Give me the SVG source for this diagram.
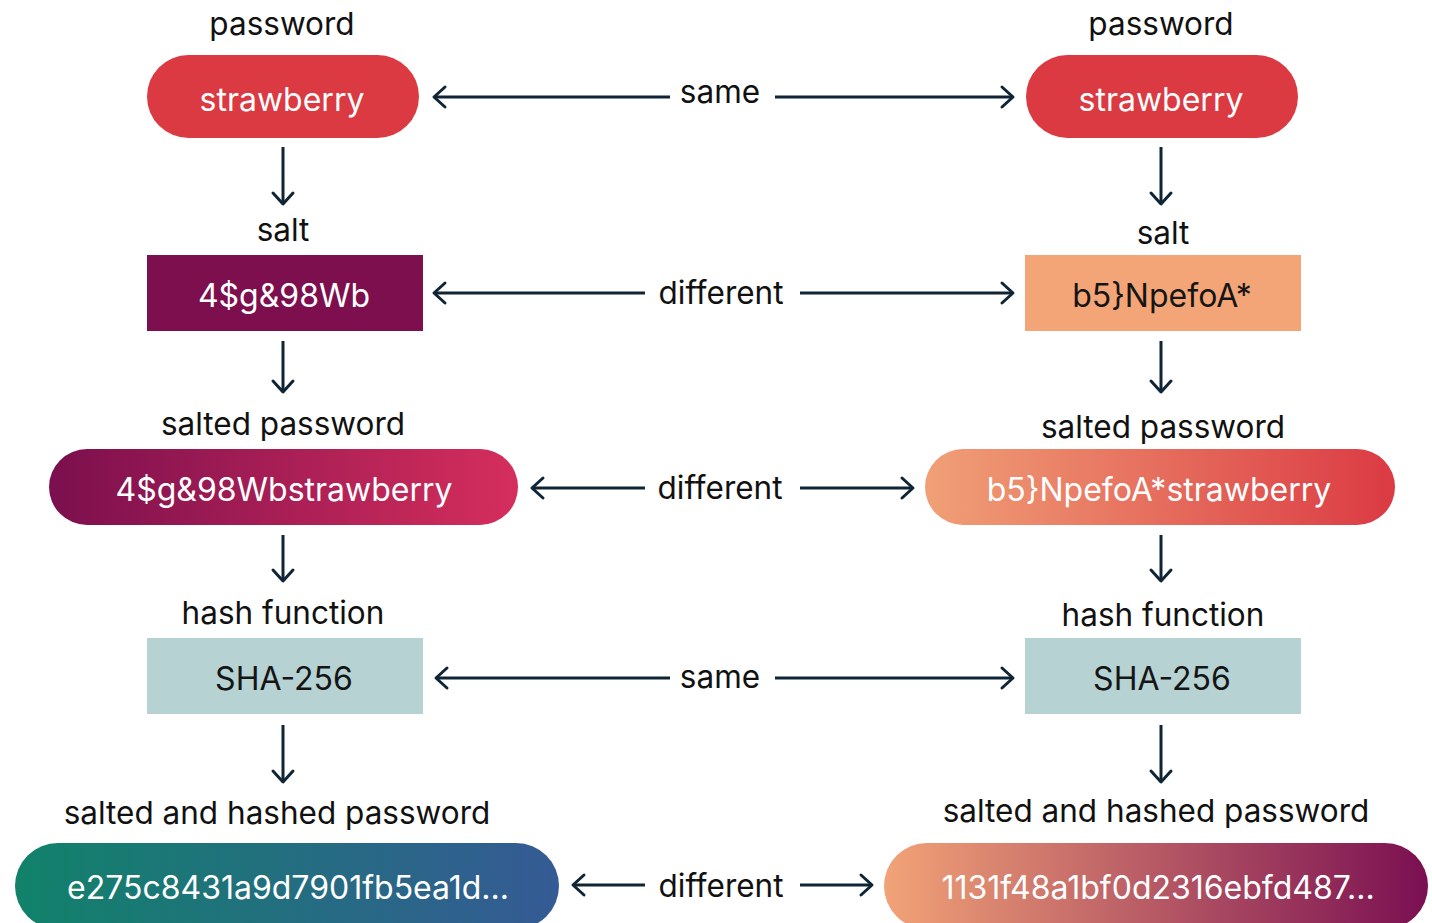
<svg xmlns="http://www.w3.org/2000/svg" width="1432" height="923" viewBox="0 0 1432 923">
  <style>
    .lbl { font-family: Inter, "Noto Sans", "Liberation Sans", sans-serif; font-size: 31.5px; fill: #111111; text-anchor: middle; }
    .val { font-family: Inter, "Noto Sans", "Liberation Sans", sans-serif; font-size: 32px; fill: #ffffff; text-anchor: middle; }
    .dark { fill: #151515; }
    .conn { fill: none; stroke: #0f2535; stroke-width: 3; marker-end: url(#head); }
  </style>
  <defs>
    <marker id="head" markerUnits="userSpaceOnUse" markerWidth="30" markerHeight="30" viewBox="-15 -15 30 30" refX="0" refY="0" orient="auto">
      <path d="M-11,-10 L0,0 L-11,10" fill="none" stroke="#0f2535" stroke-width="3" stroke-linecap="round" stroke-linejoin="round"/>
    </marker>
    <linearGradient id="gSaltL" x1="0" y1="0" x2="1" y2="0">
      <stop offset="0" stop-color="#7b0f4e"/>
      <stop offset="1" stop-color="#d52e5c"/>
    </linearGradient>
    <linearGradient id="gSaltR" x1="0" y1="0" x2="1" y2="0">
      <stop offset="0" stop-color="#f0a077"/>
      <stop offset="1" stop-color="#db3a43"/>
    </linearGradient>
    <linearGradient id="gHashL" x1="0" y1="0" x2="1" y2="0">
      <stop offset="0" stop-color="#11826a"/>
      <stop offset="1" stop-color="#355a95"/>
    </linearGradient>
    <linearGradient id="gHashR" x1="0" y1="0" x2="1" y2="0">
      <stop offset="0" stop-color="#f2a377"/>
      <stop offset="1" stop-color="#7a0f52"/>
    </linearGradient>
  </defs>

  <rect width="1432" height="923" fill="#ffffff"/>

  <!-- left column -->
  <g id="pw-left">
    <text class="lbl" x="282" y="35">password</text>
    <rect x="147" y="55" width="272" height="83" rx="41.5" fill="#db3a42"/>
    <text class="val" x="282" y="111">strawberry</text>
  </g>
  <g id="salt-left">
    <text class="lbl" x="283" y="241">salt</text>
    <rect x="147" y="255" width="276" height="76" fill="#7d0f4e"/>
    <text class="val" x="284" y="307">4$g&amp;98Wb</text>
  </g>
  <g id="salted-left">
    <text class="lbl" x="283" y="435">salted password</text>
    <rect x="49" y="449" width="469" height="76" rx="38" fill="url(#gSaltL)"/>
    <text class="val" x="284" y="501">4$g&amp;98Wbstrawberry</text>
  </g>
  <g id="hashfn-left">
    <text class="lbl" x="283" y="624">hash function</text>
    <rect x="147" y="638" width="276" height="76" fill="#b6d2d2"/>
    <text class="val dark" x="284" y="690">SHA-256</text>
  </g>
  <g id="result-left">
    <text class="lbl" x="277" y="824">salted and hashed password</text>
    <rect x="15" y="843" width="544" height="86" rx="43" fill="url(#gHashL)"/>
    <text class="val" x="288" y="899">e275c8431a9d7901fb5ea1d...</text>
  </g>

  <!-- right column -->
  <g id="pw-right">
    <text class="lbl" x="1161" y="35">password</text>
    <rect x="1026" y="55" width="272" height="83" rx="41.5" fill="#db3a42"/>
    <text class="val" x="1161" y="111">strawberry</text>
  </g>
  <g id="salt-right">
    <text class="lbl" x="1163" y="244">salt</text>
    <rect x="1025" y="255" width="276" height="76" fill="#f4a577"/>
    <text class="val dark" x="1162" y="307">b5}NpefoA*</text>
  </g>
  <g id="salted-right">
    <text class="lbl" x="1163" y="438">salted password</text>
    <rect x="925" y="449" width="470" height="76" rx="38" fill="url(#gSaltR)"/>
    <text class="val" x="1159" y="501">b5}NpefoA*strawberry</text>
  </g>
  <g id="hashfn-right">
    <text class="lbl" x="1163" y="626">hash function</text>
    <rect x="1025" y="638" width="276" height="76" fill="#b6d2d2"/>
    <text class="val dark" x="1162" y="690">SHA-256</text>
  </g>
  <g id="result-right">
    <text class="lbl" x="1156" y="822">salted and hashed password</text>
    <rect x="884" y="843" width="544" height="86" rx="43" fill="url(#gHashR)"/>
    <text class="val" x="1158" y="899">1131f48a1bf0d2316ebfd487...</text>
  </g>

  <!-- comparison labels -->
  <g id="compare-labels">
    <text class="lbl" x="720" y="103">same</text>
    <text class="lbl" x="721" y="304">different</text>
    <text class="lbl" x="720" y="499">different</text>
    <text class="lbl" x="720" y="688">same</text>
    <text class="lbl" x="721" y="897">different</text>
  </g>

  <!-- connectors -->
  <g id="connectors">
    <!-- vertical flow, left -->
    <path class="conn" d="M283,147 V204"/>
    <path class="conn" d="M283,341 V392"/>
    <path class="conn" d="M283,535 V581"/>
    <path class="conn" d="M283,725 V782"/>
    <!-- vertical flow, right -->
    <path class="conn" d="M1161,147 V204"/>
    <path class="conn" d="M1161,341 V392"/>
    <path class="conn" d="M1161,535 V581"/>
    <path class="conn" d="M1161,725 V782"/>
    <!-- row comparisons -->
    <path class="conn" d="M670,97 H434"/>
    <path class="conn" d="M775,97 H1013"/>
    <path class="conn" d="M645,293 H434"/>
    <path class="conn" d="M800,293 H1013"/>
    <path class="conn" d="M645,488 H532"/>
    <path class="conn" d="M800,488 H913"/>
    <path class="conn" d="M670,678 H436"/>
    <path class="conn" d="M775,678 H1013"/>
    <path class="conn" d="M645,885 H573"/>
    <path class="conn" d="M800,885 H872"/>
  </g>
</svg>
